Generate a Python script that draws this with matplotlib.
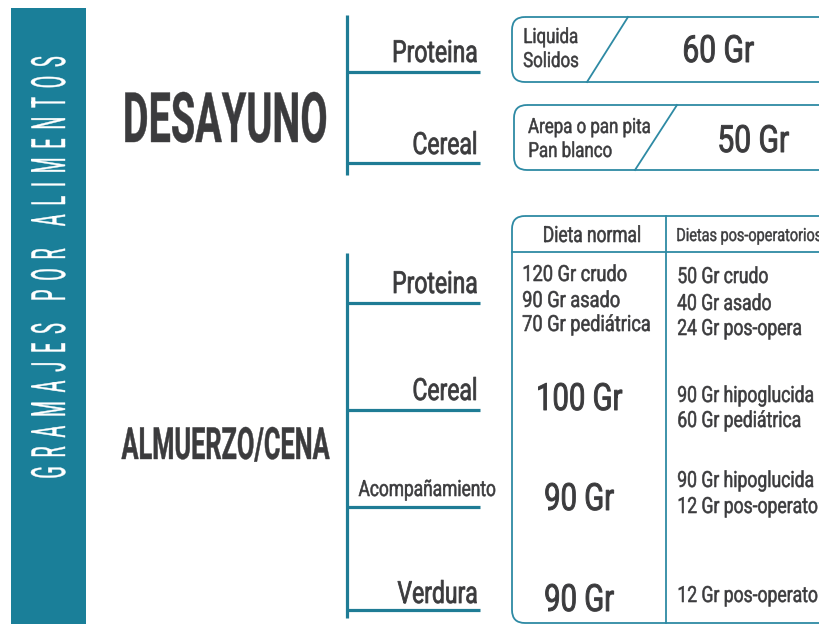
import matplotlib
matplotlib.use('Agg')
import matplotlib.pyplot as plt
from matplotlib.patches import FancyBboxPatch, Rectangle
from matplotlib.patheffects import AbstractPathEffect
from matplotlib.transforms import Affine2D

# --- data ---
side_title = 'G  R  A  M  A  J  E  S     P  O  R     A  L  I  M  E  N  T  O  S'

breakfast_title = 'DESAYUNO'
breakfast_items = ['Proteina', 'Cereal']
breakfast_options = [['Liquida', 'Solidos'], ['Arepa o pan pita', 'Pan blanco']]
breakfast_grams = ['60 Gr', '50 Gr']

lunch_title = 'ALMUERZO/CENA'
lunch_items = ['Proteina', 'Cereal', 'Acompañamiento', 'Verdura']
diet_headers = ['Dieta normal', 'Dietas pos-operatorios']
normal_diet = [['120 Gr crudo', '90 Gr asado', '70 Gr pediátrica'],
               ['100 Gr'], ['90 Gr'], ['90 Gr']]
postop_diet = [['50 Gr crudo', '40 Gr asado', '24 Gr pos-opera'],
               ['90 Gr hipoglucida', '60 Gr pediátrica'],
               ['90 Gr hipoglucida', '12 Gr pos-operato'],
               ['12 Gr pos-operato']]

TEAL = '#1a7f99'
LINE = '#1f7c95'
BOX = '#2e8aa4'
INK = '#3b3b3d'
FONT = ['Roboto', 'DejaVu Sans']


# squeeze glyphs horizontally (and thicken a bit) to mimic the condensed face of the original
class Narrow(AbstractPathEffect):
    def __init__(self, sx=0.8, ha='left', stroke=0.0):
        super().__init__()
        self.sx = sx
        self.ha = ha
        self.stroke = stroke

    def draw_path(self, renderer, gc, tpath, affine, rgbFace=None):
        ext = tpath.get_extents()
        px = {'left': ext.x0, 'center': (ext.x0 + ext.x1) / 2, 'right': ext.x1}[self.ha]
        squeeze = Affine2D().translate(-px, 0).scale(self.sx, 1).translate(px, 0)
        gc0 = renderer.new_gc()
        gc0.copy_properties(gc)
        if self.stroke > 0 and rgbFace is not None:
            gc0.set_foreground(rgbFace)
            gc0.set_linewidth(self.stroke)
            gc0.set_joinstyle('round')
        else:
            gc0.set_linewidth(0)
        renderer.draw_path(gc0, tpath, squeeze + affine, rgbFace)
        gc0.restore()


def label(x, y, s, size, ha='left', va='baseline', sx=0.8, color=INK, weight='normal',
          stroke=None):
    if stroke is None:
        stroke = size * 0.025
    ax.text(x, y, s, fontsize=size, ha=ha, va=va, color=color, family=FONT,
            fontweight=weight, path_effects=[Narrow(sx, ha, stroke)])


fig = plt.figure(figsize=(8.2, 6.24), dpi=100)
ax = fig.add_axes([0, 0, 1, 1])
ax.set_xlim(0, 820)
ax.set_ylim(624, 0)
ax.axis('off')

# side banner
ax.add_patch(Rectangle((11, 8), 75, 620, color=TEAL, lw=0))
ax.text(52, 267, side_title, fontsize=34, rotation=90, ha='center', va='center',
        color='white', family=FONT,
        path_effects=[Narrow(0.38, 'center', 0.3)])

# --- breakfast block ---
label(225, 142, breakfast_title, 50, ha='center', sx=0.57, weight='bold', stroke=0.3)
ax.plot([347, 347], [15, 175], color=LINE, lw=2.3, solid_capstyle='butt')
branch_y = [72, 163]
label_base = [62, 154]
for item, by, lb in zip(breakfast_items, branch_y, label_base):
    ax.plot([347, 480], [by, by], color=LINE, lw=2.3, solid_capstyle='butt')
    label(478, lb, item, 22, ha='right', sx=0.75)

box_top = [17, 105]
box_left = [512, 514]
diag_top = [628, 677]
diag_bot = [587, 635]
gram_x = [718, 753]
for i in range(2):
    t = box_top[i]
    ax.add_patch(FancyBboxPatch((box_left[i], t), 330, 65,
                                boxstyle='round,pad=0,rounding_size=13',
                                fc='none', ec=BOX, lw=1.3))
    ax.plot([diag_top[i], diag_bot[i]], [t, t + 65], color=BOX, lw=1.3)
    for j, s in enumerate(breakfast_options[i]):
        label(box_left[i] + 11 + 3 * i, t + 26 + 24 * j + i * 2, s, 15, sx=0.81)
    label(gram_x[i], t + 45 + i * 2, breakfast_grams[i], 27, ha='center')

# --- lunch / dinner block ---
label(226, 459, lunch_title, 32, ha='center', sx=0.57, weight='bold', stroke=0.3)
ax.plot([347, 347], [253, 618], color=LINE, lw=2.3, solid_capstyle='butt')
branch_y = [303, 410, 507, 610]
label_base = [293, 400, 496, 603]
label_size = [22, 22, 16, 22]
for item, by, lb, sz in zip(lunch_items, branch_y, label_base, label_size):
    ax.plot([347, 480], [by, by], color=LINE, lw=2.3, solid_capstyle='butt')
    label(496 if sz < 20 else 478, lb, item, sz, ha='right', sx=0.75 if sz > 20 else 0.78)

# table frame
ax.add_patch(FancyBboxPatch((512, 216), 330, 407,
                            boxstyle='round,pad=0,rounding_size=13',
                            fc='none', ec=BOX, lw=1.3))
ax.plot([512, 820], [252, 252], color=BOX, lw=1.3)
ax.plot([666, 666], [216, 623], color=BOX, lw=1.3)
label(592, 242, diet_headers[0], 16, ha='center', sx=0.78)
label(676, 241, diet_headers[1], 13, sx=0.8)

normal_base = [[281, 307, 331], [410], [510], [611]]
for lines, bases in zip(normal_diet, normal_base):
    if len(lines) > 1:
        for s, b in zip(lines, bases):
            label(522, b, s, 16, sx=0.82)
    else:
        label(579, bases[0], lines[0], 27, ha='center', sx=0.78)

postop_base = [[283, 310, 335], [402, 427], [487, 513], [602]]
for lines, bases in zip(postop_diet, postop_base):
    for s, b in zip(lines, bases):
        label(677, b, s, 16, sx=0.79)

fig.savefig('out.png', dpi=100)
